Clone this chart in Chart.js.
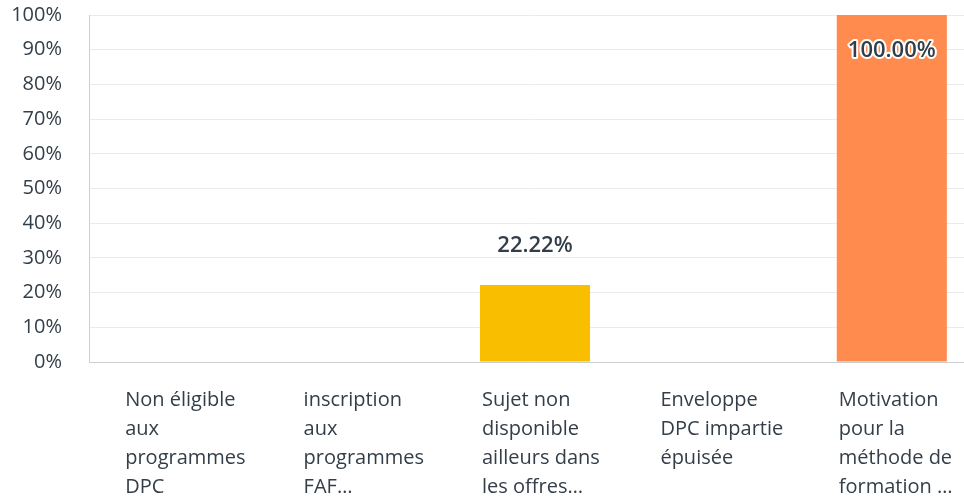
<!DOCTYPE html>
<html>
<head>
<meta charset="utf-8">
<script src="https://cdn.jsdelivr.net/npm/chart.js@4.4.1/dist/chart.umd.min.js"></script>
<style>
    html, body { margin: 0; padding: 0; background: #fff; overflow: hidden; }
    #wrap { position: absolute; left: 0; top: 0; width: 981px; height: 500px; }
</style>
</head>
<body>
<div id="wrap"><canvas id="chart"></canvas></div>
<script>
// Categories (truncated as in the survey export)
const categories = [
    ['Non éligible', 'aux', 'programmes', 'DPC'],
    ['inscription', 'aux', 'programmes', 'FAF…'],
    ['Sujet non', 'disponible', 'ailleurs dans', 'les offres…'],
    ['Enveloppe', 'DPC impartie', 'épuisée'],
    ['Motivation', 'pour la', 'méthode de', 'formation …']
];
const percentages = [0, 0, 22.22, 0, 100];
const barColors = ['#F9BE00', '#F9BE00', '#F9BE00', '#F9BE00', '#FF8B4F'];
const yTicks = [0, 10, 20, 30, 40, 50, 60, 70, 80, 90, 100];

const textColor = '#333E48';
const fontFamily = '"Open Sans", sans-serif';

// Value labels: above the bar when there is room, inside the top otherwise
const valueLabels = {
    id: 'valueLabels',
    afterDatasetsDraw(chart) {
        const ctx = chart.ctx;
        const meta = chart.getDatasetMeta(0);
        const top = chart.chartArea.top;
        ctx.save();
        ctx.font = '600 22px ' + fontFamily;
        ctx.textAlign = 'center';
        ctx.textBaseline = 'middle';
        meta.data.forEach((bar, i) => {
            const v = percentages[i];
            if (!v) return;
            const txt = v.toFixed(2) + '%';
            let y = bar.y - 39;
            let inside = false;
            if (y - 12 < top) { y = bar.y + 36; inside = true; }
            if (inside) {
                ctx.lineWidth = 4;
                ctx.strokeStyle = '#fff';
                ctx.lineJoin = 'round';
                ctx.strokeText(txt, bar.x, y);
            }
            ctx.fillStyle = textColor;
            ctx.fillText(txt, bar.x, y);
        });
        ctx.restore();
    }
};

new Chart(document.getElementById('chart'), {
    type: 'bar',
    data: {
        labels: categories,
        datasets: [{
            data: percentages,
            backgroundColor: barColors,
            barPercentage: 0.617,
            categoryPercentage: 1
        }]
    },
    options: {
        responsive: true,
        maintainAspectRatio: false,
        animation: false,
        layout: { padding: { top: 15, right: 0, bottom: 0, left: 0 } },
        plugins: {
            legend: { display: false },
            tooltip: { enabled: false }
        },
        scales: {
            x: {
                afterFit(scale) {
                    scale.height = 138;
                    scale.paddingLeft = 0;
                    scale.paddingRight = 0;
                },
                grid: { display: false, drawTicks: false },
                border: { display: true, color: '#CFCFCF', width: 1 },
                ticks: {
                    color: textColor,
                    font: { family: fontFamily, size: 20, lineHeight: 1.45 },
                    align: 'start',
                    labelOffset: -53,
                    padding: 24,
                    maxRotation: 0,
                    autoSkip: false
                }
            },
            y: {
                min: 0,
                max: 100,
                afterFit(scale) {
                    scale.width = 89;
                    scale.paddingTop = 0;
                    scale.paddingBottom = 0;
                },
                afterBuildTicks(scale) { scale.ticks = yTicks.map(v => ({ value: v })); },
                grid: { color: '#EBEBEB', lineWidth: 1, drawTicks: false },
                border: { display: true, color: '#CFCFCF', width: 1 },
                ticks: {
                    color: textColor,
                    font: { family: fontFamily, size: 20 },
                    padding: 27,
                    callback: v => v + '%'
                }
            }
        }
    },
    plugins: [valueLabels]
});
</script>
</body>
</html>
